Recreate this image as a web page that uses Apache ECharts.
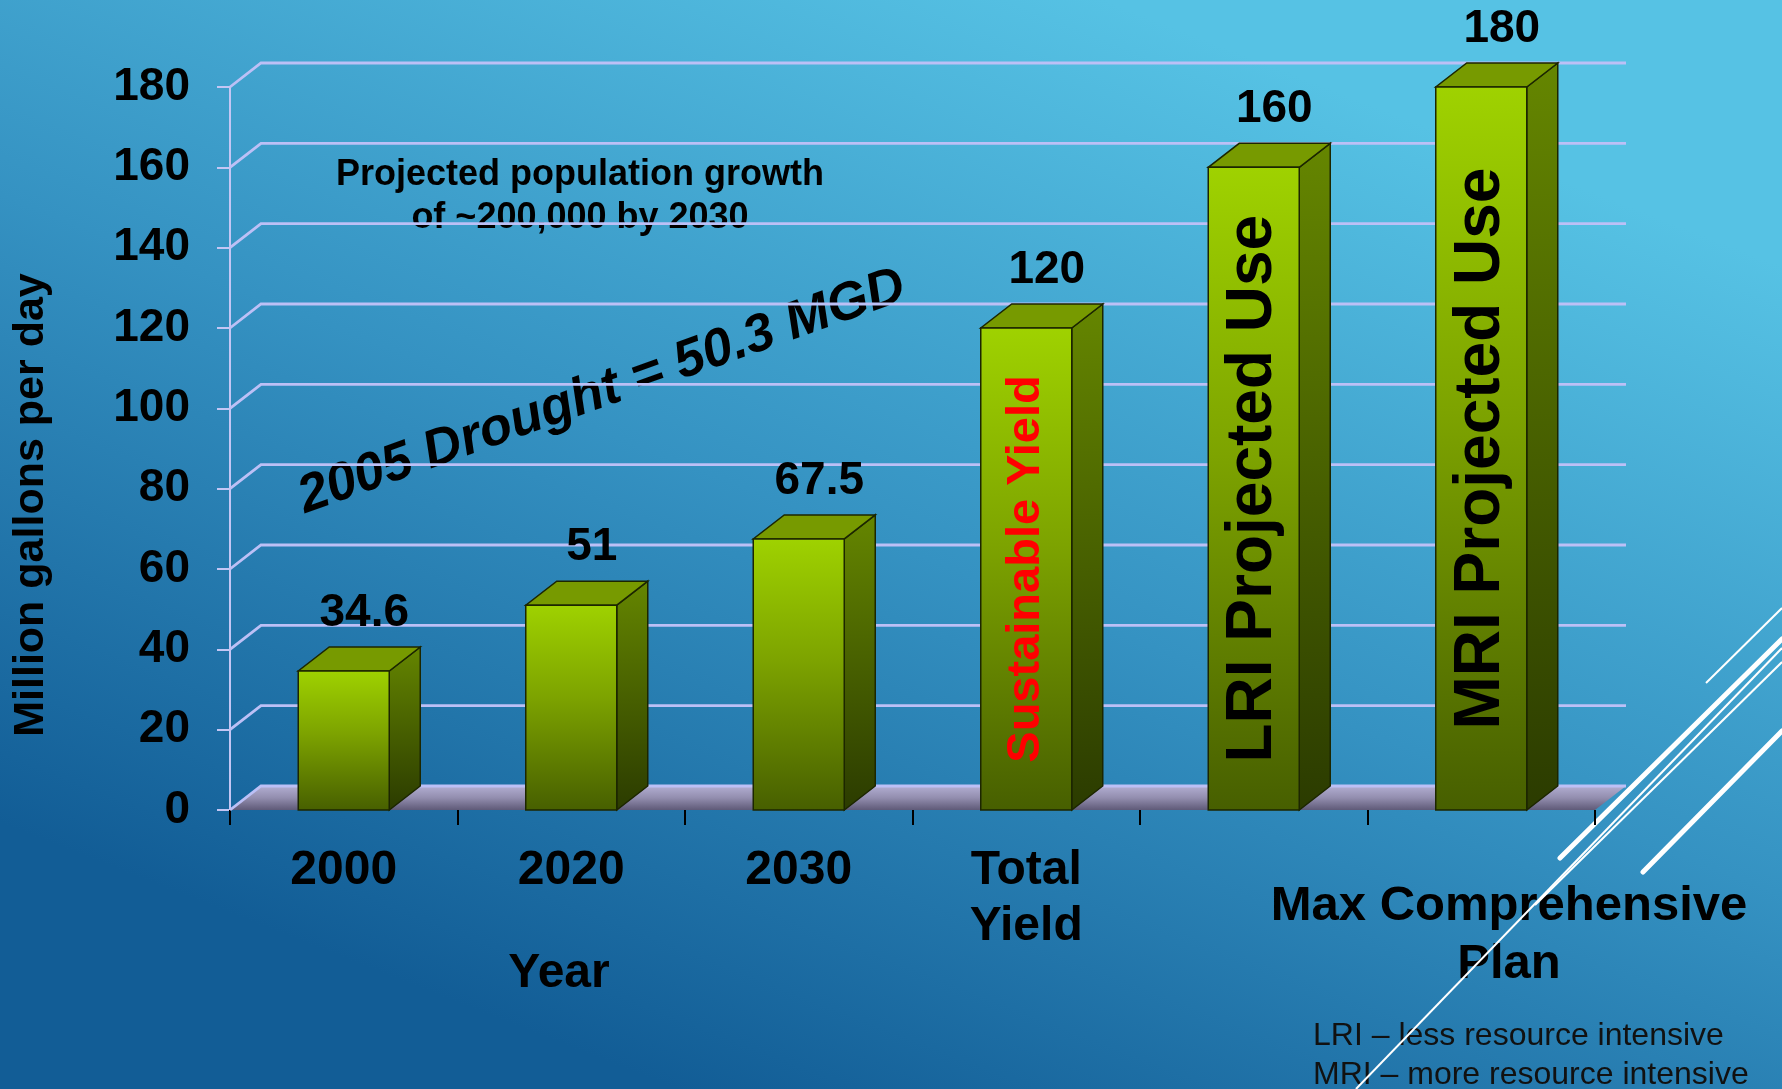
<!DOCTYPE html>
<html>
<head>
<meta charset="utf-8">
<script src="https://cdn.jsdelivr.net/npm/echarts@6/dist/echarts.min.js"></script>
<style>
html,body{margin:0;padding:0;width:1782px;height:1089px;overflow:hidden;background:#2f8fc0;}
#chart{width:1782px;height:1089px;}
</style>
</head>
<body>
<div id="chart"></div>
<script>
// ---- data ----
const categories = ['2000', '2020', '2030', 'Total\nYield', '', ''];
const values = [34.6, 51, 67.5, 120, 160, 180];
const valueLabels = ['34.6', '51', '67.5', '120', '160', '180'];
const barTexts = ['', '', '', 'Sustainable Yield', 'LRI Projected Use', 'MRI Projected Use'];
const barTextColors = ['#000000', '#000000', '#000000', '#ff0000', '#000000', '#000000'];
const yTicks = [0, 20, 40, 60, 80, 100, 120, 140, 160, 180];

// ---- styling constants ----
const DX = 31, DY = -24;
const FONT = "'Liberation Sans', Arial, sans-serif";
const chart = echarts.init(document.getElementById('chart'));
const LG = echarts.graphic.LinearGradient;

function wallsItem(params, api) {
  const v = api.value(1);
  const cs = params.coordSys;
  const y = api.coord([0, v])[1];
  const x0 = cs.x, x1 = cs.x + cs.width;
  const children = [];
  if (v === 0) {
    children.push({
      type: 'polygon',
      shape: { points: [[x0, y], [x1, y], [x1 + DX, y + DY], [x0 + DX, y + DY]] },
      style: { fill: new LG(0, 0, 0, 1, [
        { offset: 0, color: '#b2aed2' },
        { offset: 0.5, color: '#928dae' },
        { offset: 1, color: '#5f5a78' }
      ]) }
    });
  }
  children.push({
    type: 'polyline',
    shape: { points: [[x0, y], [x0 + DX, y + DY], [x1 + DX, y + DY]] },
    style: { stroke: '#bcc0f6', lineWidth: 2.8, fill: null }
  });
  return { type: 'group', children: children };
}

function barItem(params, api) {
  const i = api.value(0);
  const v = api.value(1);
  const top = api.coord([i, v]);
  const bot = api.coord([i, 0]);
  const w = api.size([1, 0])[0] * 0.4;
  const xl = top[0] - w / 2, xr = top[0] + w / 2;
  const yt = top[1], yb = bot[1];
  const outline = '#1c2600';
  const children = [
    { type: 'polygon',
      shape: { points: [[xr, yt], [xr + DX, yt + DY], [xr + DX, yb + DY], [xr, yb]] },
      style: { fill: new LG(0, 0, 0, 1, [{ offset: 0, color: '#658600' }, { offset: 1, color: '#2b3b00' }]), stroke: outline, lineWidth: 1.5 } },
    { type: 'polygon',
      shape: { points: [[xl, yt], [xr, yt], [xr + DX, yt + DY], [xl + DX, yt + DY]] },
      style: { fill: '#779a00', stroke: outline, lineWidth: 1.5 } },
    { type: 'rect',
      shape: { x: xl, y: yt, width: w, height: yb - yt },
      style: { fill: new LG(0, 0, 0, 1, [{ offset: 0, color: '#9fd200' }, { offset: 0.45, color: '#7da300' }, { offset: 1, color: '#475f00' }]), stroke: outline, lineWidth: 1.5 } },
    { type: 'text',
      x: top[0] + DX / 2 + 5, y: yt + DY - 34,
      style: { text: valueLabels[i], fill: '#000', font: 'bold 46px ' + FONT, align: 'center', verticalAlign: 'middle' } }
  ];
  if (barTexts[i]) {
    const big = i >= 4;
    children.push({
      type: 'text',
      x: top[0], y: (yt + yb) / 2,
      rotation: Math.PI / 2,
      style: { text: barTexts[i], fill: barTextColors[i], font: 'bold ' + (big ? 64 : 47) + 'px ' + FONT, align: 'center', verticalAlign: 'middle' }
    });
  }
  return { type: 'group', children: children };
}

const option = {
  animation: false,
  graphic: [
    { type: 'rect', z: -100, silent: true, shape: { x: 0, y: 0, width: 1782, height: 1089 },
      style: { fill: new LG(0.62, 0, 0.38, 1, [
        { offset: 0, color: '#56c2e4' },
        { offset: 0.5, color: '#3592c2' },
        { offset: 1, color: '#125d96' }
      ]) } },
    { type: 'text', x: 31, y: 505, rotation: Math.PI / 2,
      style: { text: 'Million gallons per day', font: 'bold 43px ' + FONT, fill: '#000', align: 'center', verticalAlign: 'middle' } },
    { type: 'text', x: 580, y: 197,
      style: { text: 'Projected population growth\nof ~200,000 by 2030', font: 'bold 36px ' + FONT, lineHeight: 43, fill: '#000', align: 'center', verticalAlign: 'middle' } },
    { type: 'text', x: 602, y: 392, rotation: 0.342,
      style: { text: '2005 Drought = 50.3 MGD', font: 'italic bold 53px ' + FONT, fill: '#000', align: 'center', verticalAlign: 'middle' } },
    { type: 'text', x: 559, y: 974,
      style: { text: 'Year', font: 'bold 48px ' + FONT, fill: '#000', align: 'center', verticalAlign: 'middle' } },
    { type: 'text', x: 1509, y: 935,
      style: { text: 'Max Comprehensive\nPlan', font: 'bold 49px ' + FONT, lineHeight: 58, fill: '#000', align: 'center', verticalAlign: 'middle' } },
    { type: 'text', x: 1313, y: 1036,
      style: { text: 'LRI \u2013 less resource intensive', font: '32px ' + FONT, fill: '#111', align: 'left', verticalAlign: 'middle' } },
    { type: 'text', x: 1313, y: 1075,
      style: { text: 'MRI \u2013 more resource intensive', font: '32px ' + FONT, fill: '#111', align: 'left', verticalAlign: 'middle' } },
    { type: 'line', silent: true, shape: { x1: 1706, y1: 683, x2: 1782, y2: 608 }, style: { stroke: '#ffffff', lineWidth: 2 } },
    { type: 'line', silent: true, shape: { x1: 1560, y1: 858, x2: 1782, y2: 639 }, style: { stroke: '#ffffff', lineWidth: 5, lineCap: 'round' } },
    { type: 'line', silent: true, shape: { x1: 1356, y1: 1089, x2: 1782, y2: 648 }, style: { stroke: '#ffffff', lineWidth: 2 } },
    { type: 'line', silent: true, shape: { x1: 1535, y1: 905, x2: 1782, y2: 662 }, style: { stroke: '#ffffff', lineWidth: 2 } },
    { type: 'line', silent: true, shape: { x1: 1643, y1: 872, x2: 1782, y2: 731 }, style: { stroke: '#ffffff', lineWidth: 5, lineCap: 'round' } }
  ],
  grid: { left: 230, right: 187, top: 87, bottom: 279, containLabel: false },
  xAxis: {
    type: 'category',
    data: categories,
    axisLine: { show: false },
    axisTick: { show: true, length: 15, lineStyle: { color: '#000', width: 2 } },
    axisLabel: { interval: 0, margin: 33, color: '#000', fontSize: 48, fontWeight: 'bold', fontFamily: FONT, lineHeight: 56 },
    splitLine: { show: false }
  },
  yAxis: {
    type: 'value', min: 0, max: 180, interval: 20,
    axisLine: { show: true, lineStyle: { color: '#c4c6f4', width: 2 } },
    axisTick: { show: true, length: 13, lineStyle: { color: '#c4c6f4', width: 2 } },
    axisLabel: { margin: 40, color: '#000', fontSize: 46, fontWeight: 'bold', fontFamily: FONT },
    splitLine: { show: false }
  },
  series: [
    { type: 'custom', name: 'walls', z: 1, silent: true, renderItem: wallsItem,
      data: yTicks.map(v => [0, v]) },
    { type: 'custom', name: 'bars', z: 3, renderItem: barItem,
      data: values.map((v, i) => [i, v]) }
  ]
};
chart.setOption(option);
</script>
</body>
</html>
